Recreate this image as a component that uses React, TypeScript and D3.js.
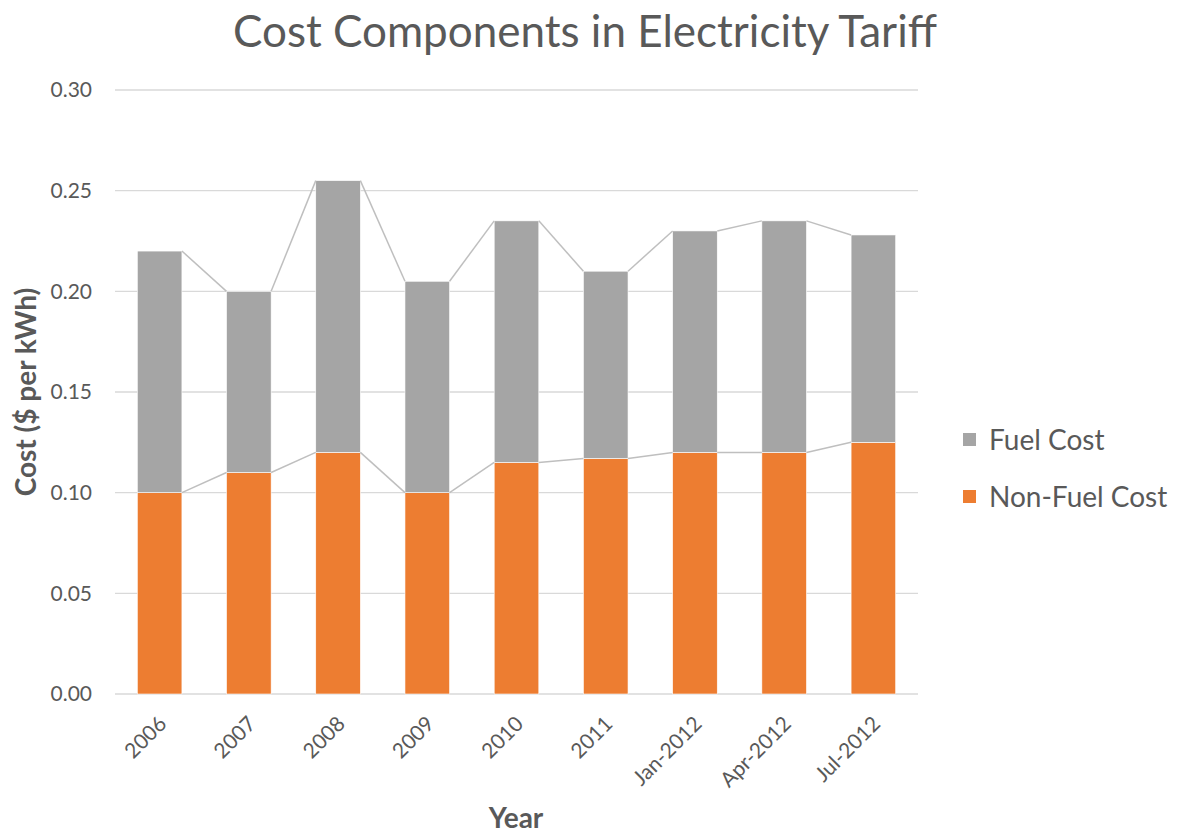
import React from 'react';
import * as d3 from 'd3';

const categories = ['2006', '2007', '2008', '2009', '2010', '2011', 'Jan-2012', 'Apr-2012', 'Jul-2012'];
const nonFuelCost = [0.10, 0.11, 0.12, 0.10, 0.115, 0.117, 0.12, 0.12, 0.125];
const fuelCost = [0.12, 0.09, 0.135, 0.105, 0.12, 0.093, 0.11, 0.115, 0.103];
const yTicks = [0, 0.05, 0.10, 0.15, 0.20, 0.25, 0.30];

const FONT = "Lato, 'Open Sans', sans-serif";
const TEXT = '#595959';
const GREY = '#a5a5a5';
const ORANGE = '#ed7d31';

const App = () => {
  const width = 1181;
  const height = 837;
  const margin = { top: 90, right: 263, bottom: 143, left: 115 };
  const innerW = width - margin.left - margin.right;
  const innerH = height - margin.top - margin.bottom;

  const x = d3.scaleBand().domain(categories).range([0, innerW]).paddingInner(0.5).paddingOuter(0.25);
  const y = d3.scaleLinear().domain([0, 0.3]).range([innerH, 0]);

  const stacked = categories.map((c, i) => ({
    cat: c,
    nf: nonFuelCost[i],
    total: nonFuelCost[i] + fuelCost[i],
  }));

  // series lines joining the bar tops
  const seriesLines = [];
  for (let i = 0; i < stacked.length - 1; i++) {
    const a = stacked[i];
    const b = stacked[i + 1];
    const x1 = x(a.cat) + x.bandwidth();
    const x2 = x(b.cat);
    seriesLines.push({ x1, x2, y1: y(a.nf), y2: y(b.nf), key: 'nf' + i });
    seriesLines.push({ x1, x2, y1: y(a.total), y2: y(b.total), key: 't' + i });
  }

  return (
    <svg width={width} height={height} style={{ position: 'absolute', left: 0, top: 0, background: '#fff' }}>
      <text x={585} y={47} textAnchor="middle" fontFamily={FONT} fontSize={44} fill={TEXT}>
        Cost Components in Electricity Tariff
      </text>
      <g transform={`translate(${margin.left},${margin.top})`}>
        {yTicks.map(t => (
          <g key={t}>
            <line x1={0} x2={innerW} y1={y(t)} y2={y(t)} stroke="#d9d9d9" strokeWidth={1.3} />
            <text x={-23} y={y(t)} dy="0.35em" textAnchor="end" fontFamily={FONT} fontSize={21} fill={TEXT}>
              {t.toFixed(2)}
            </text>
          </g>
        ))}
        {stacked.map(d => (
          <g key={d.cat}>
            <rect x={x(d.cat)} width={x.bandwidth()} y={y(d.nf)} height={innerH - y(d.nf)} fill={ORANGE} stroke="#fff" strokeWidth={0.6} />
            <rect x={x(d.cat)} width={x.bandwidth()} y={y(d.total)} height={y(d.nf) - y(d.total)} fill={GREY} stroke="#fff" strokeWidth={0.6} />
          </g>
        ))}
        {seriesLines.map(l => (
          <line key={l.key} x1={l.x1} x2={l.x2} y1={l.y1} y2={l.y2} stroke="#bfbfbf" strokeWidth={1.5} />
        ))}
        {categories.map(c => (
          <text
            key={c}
            transform={`translate(${x(c) + x.bandwidth() / 2 + 3},${innerH + 26}) rotate(-45)`}
            textAnchor="end"
            dy="0.35em"
            fontFamily={FONT}
            fontSize={21}
            fill={TEXT}
          >
            {c}
          </text>
        ))}
      </g>
      <text x={516} y={828} textAnchor="middle" fontFamily={FONT} fontSize={28} fontWeight="bold" fill={TEXT}>
        Year
      </text>
      <text transform="translate(36,392) rotate(-90)" textAnchor="middle" fontFamily={FONT} fontSize={28} fontWeight="bold" fill={TEXT}>
        Cost ($ per kWh)
      </text>
      <g fontFamily={FONT} fontSize={28} fill={TEXT}>
        <rect x={963} y={433} width={13} height={13} fill={GREY} />
        <text x={989} y={440} dy="0.35em">Fuel Cost</text>
        <rect x={963} y={490} width={13} height={13} fill={ORANGE} />
        <text x={989} y={497} dy="0.35em">Non-Fuel Cost</text>
      </g>
    </svg>
  );
};

export default App;
